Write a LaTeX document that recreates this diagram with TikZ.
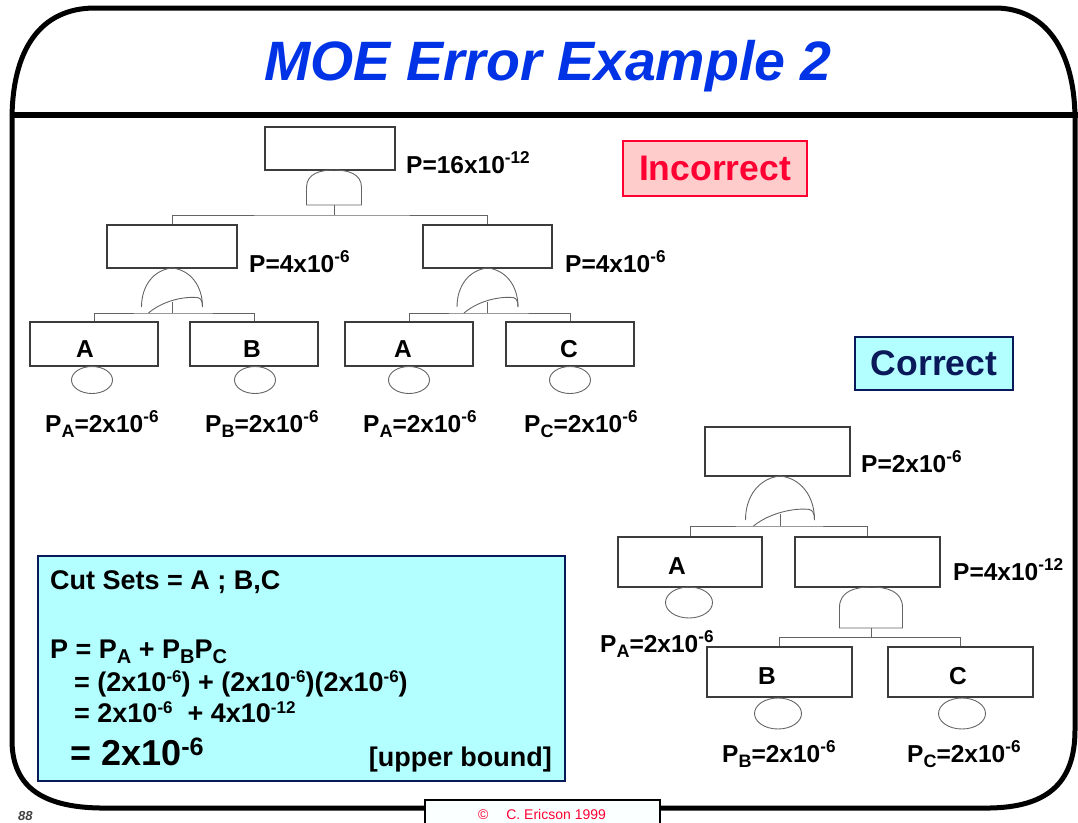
\documentclass[tikz,border=0pt]{standalone}
\usepackage{fontspec}
\setmainfont{Liberation Sans}
\usetikzlibrary{shapes.geometric}
\definecolor{titleblue}{RGB}{0,51,230}
\definecolor{incred}{RGB}{255,0,51}
\definecolor{incfill}{RGB}{255,204,204}
\definecolor{cyanfill}{RGB}{179,255,255}
\definecolor{navy}{RGB}{10,25,90}
\definecolor{boxgray}{RGB}{60,60,60}
\definecolor{gategray}{RGB}{100,100,100}
\newcommand\fs[1]{\fontsize{#1}{#1}\selectfont}
\newcommand\sbt[1]{\raisebox{-5pt}{\fs{18}#1}}
\newcommand\sbc[1]{\raisebox{-5.5pt}{\fs{20}#1}}
\newcommand\spc[1]{\raisebox{8.5pt}{\fs{17}#1}}
% AND gate: cx, ytop, halfwidth, height
\newcommand\ANDgate[4]{%
  \draw[gate] (#1-#3,#2+#4) -- (#1-#3,#2+0.5*#4)
    .. controls (#1-#3,#2+0.1*#4) and (#1-0.5*#3,#2) .. (#1,#2)
    .. controls (#1+0.5*#3,#2) and (#1+#3,#2+0.1*#4) .. (#1+#3,#2+0.5*#4)
    -- (#1+#3,#2+#4) -- cycle;}
% OR gate: cx, ytop, halfwidth, height, line y
\newcommand\ORgate[5]{%
  \draw[gate] (#1-#3,#2+#4) .. controls (#1-#3,#2+0.45*#4) and (#1-0.6*#3,#2+0.05*#4) .. (#1,#2)
    .. controls (#1+0.6*#3,#2+0.05*#4) and (#1+#3,#2+0.45*#4) .. (#1+#3,#2+#4);
  \draw[gate] (#1-0.77*#3,#5) .. controls (#1-0.3*#3,#2+0.84*#4) and (#1+0.4*#3,#2+0.72*#4) .. (#1+0.85*#3,#2+0.76*#4)
    .. controls (#1+0.95*#3,#2+0.78*#4) and (#1+#3,#2+0.85*#4) .. (#1+#3,#2+#4);}
\begin{document}
\begin{tikzpicture}[x=1pt,y=-1pt,
  frame/.style={line width=5pt, line cap=round, line join=round},
  fbox/.style={draw=boxgray, line width=1.1pt, inner sep=0pt},
  ev/.style={ellipse, draw=gategray, line width=0.9pt, inner sep=0pt},
  gate/.style={draw=gategray, line width=0.9pt},
  conn/.style={draw=gategray, line width=0.9pt},
  lbl/.style={inner sep=0pt, font=\fs{24.5}\bfseries},
  cst/.style={inner sep=0pt, font=\fs{27}\bfseries, anchor=base west}]
\useasboundingbox (0,0) rectangle (1078,822);
% frame
\draw[frame] (12,740) -- (12,120) .. controls (12,50) and (40,8) .. (95,8) -- (995,8)
  .. controls (1045,8) and (1075,50) .. (1075,120) -- (1075,730)
  .. controls (1075,785) and (1045,807) .. (990,808) -- (100,808)
  .. controls (40,807) and (12,785) .. (12,740);
\draw[line width=6pt] (12,115) -- (1078,115);
\node[font=\fs{55.5}\bfseries\itshape, text=titleblue, anchor=base, inner sep=0pt] (title) at (548,80) {MOE Error Example 2};
% footer
\node[draw=black, fill={rgb,255:red,250;green,255;blue,255}, line width=2pt, minimum width=235, minimum height=30, inner sep=0pt] (foot) at (542.5,815) {};
\node[font=\fs{14}, text=incred, anchor=base, inner sep=0pt] (copy) at (542,819) {©\hspace{18pt}C. Ericson 1999};
\node[font=\fs{13}\bfseries\itshape, text=darkgray, anchor=base west, inner sep=0pt] (pg) at (18,820) {88};

% ===== Incorrect tree =====
\node[fbox, minimum width=130, minimum height=43] (it) at (330,148.5) {};
\node[lbl, anchor=base west] (itp) at (406,173) {P=16x10\textsuperscript{-12}};
\ANDgate{334}{170}{27.5}{35}
\coordinate (ito) at (334,205);
\coordinate (itj) at (334,215);
\node[fbox, minimum width=130, minimum height=43] (iml) at (172,246.5) {};
\node[fbox, minimum width=129, minimum height=43] (imr) at (487.5,246.5) {};
\node[lbl, anchor=base west] (imlp) at (249,272) {P=4x10\textsuperscript{-6}};
\node[lbl, anchor=base west] (imrp) at (565,272) {P=4x10\textsuperscript{-6}};
\draw[conn] (iml.north) |- (itj) -| (imr.north);
\draw[conn] (ito) -- (itj);
% left OR
\ORgate{172}{268}{30.5}{39}{313}
\coordinate (ilo) at (172,302);
\coordinate (ilj) at (172,313);
% right OR
\ORgate{487.5}{268}{30.5}{39}{313}
\coordinate (iro) at (487.5,302);
\coordinate (irj) at (487.5,313);
% bottom boxes
\node[fbox, minimum width=128, minimum height=44] (ia1) at (94,344) {};
\node[fbox, minimum width=128, minimum height=44] (ib) at (254,344) {};
\node[fbox, minimum width=128, minimum height=44] (ia2) at (409,344) {};
\node[fbox, minimum width=128, minimum height=44] (ic) at (570,344) {};
\draw[conn] (ia1.north) |- (ilj) -| (ib.north);
\draw[conn] (ilo) -- (ilj);
\draw[conn] (ia2.north) |- (irj) -| (ic.north);
\draw[conn] (iro) -- (irj);
\node[lbl, anchor=base] (ia1l) at (85,357) {A};
\node[lbl, anchor=base] (ibl) at (252,357) {B};
\node[lbl, anchor=base] (ia2l) at (403,357) {A};
\node[lbl, anchor=base] (icl) at (569,357) {C};
\node[ev, minimum width=41, minimum height=27] (iea1) at (92,380) {};
\node[ev, minimum width=41, minimum height=27] (ieb) at (255,380) {};
\node[ev, minimum width=41, minimum height=27] (iea2) at (409,380) {};
\node[ev, minimum width=41, minimum height=27] (iec) at (570,380) {};
\node[lbl, anchor=base west] (ipa1) at (45,432) {P\sbt{A}=2x10\textsuperscript{-6}};
\node[lbl, anchor=base west] (ipb) at (205,432) {P\sbt{B}=2x10\textsuperscript{-6}};
\node[lbl, anchor=base west] (ipa2) at (363,432) {P\sbt{A}=2x10\textsuperscript{-6}};
\node[lbl, anchor=base west] (ipc) at (524,432) {P\sbt{C}=2x10\textsuperscript{-6}};

% badges
\node[draw=incred, fill=incfill, line width=1.5pt, minimum width=184, minimum height=55, inner sep=0pt, text=incred, font=\fs{35.5}\bfseries] (inc) at (715,168.5) {Incorrect};
\node[draw=navy, fill=cyanfill, line width=1.5pt, minimum width=158, minimum height=53, inner sep=0pt, text=navy, font=\fs{35.5}\bfseries] (cor) at (934,363.5) {Correct};

% ===== Correct tree =====
\node[fbox, minimum width=145, minimum height=49] (ct) at (777.5,451.5) {};
\node[lbl, anchor=base west] (ctp) at (861,472) {P=2x10\textsuperscript{-6}};
\ORgate{780}{476}{34.5}{44}{526}
\coordinate (cto) at (780,514);
\coordinate (ctj) at (780,526);
\node[fbox, minimum width=144, minimum height=50] (ca) at (690,562) {};
\node[fbox, minimum width=145, minimum height=50] (cm) at (867.5,562) {};
\draw[conn] (ca.north) |- (ctj) -| (cm.north);
\draw[conn] (cto) -- (ctj);
\node[lbl, anchor=base] (cal) at (677,574) {A};
\node[ev, minimum width=47, minimum height=31] (cea) at (689,602.5) {};
\node[lbl, anchor=base west] (cpa) at (600,652) {P\sbt{A}=2x10\textsuperscript{-6}};
\node[lbl, anchor=base west] (cmp) at (953,580) {P=4x10\textsuperscript{-12}};
\ANDgate{871}{587}{31.5}{41}
\coordinate (cmo) at (871,628);
\coordinate (cmj) at (871,637);
\node[fbox, minimum width=145, minimum height=50] (cb) at (779.5,672) {};
\node[fbox, minimum width=145, minimum height=50] (cc) at (960.5,672) {};
\draw[conn] (cb.north) |- (cmj) -| (cc.north);
\draw[conn] (cmo) -- (cmj);
\node[lbl, anchor=base] (cbl) at (767,684) {B};
\node[lbl, anchor=base] (ccl) at (958,684) {C};
\node[ev, minimum width=47, minimum height=31] (ceb) at (778,713.5) {};
\node[ev, minimum width=47, minimum height=31] (cec) at (962,713.5) {};
\node[lbl, anchor=base west] (cpb) at (722,762) {P\sbt{B}=2x10\textsuperscript{-6}};
\node[lbl, anchor=base west] (cpc) at (907,762) {P\sbt{C}=2x10\textsuperscript{-6}};

% ===== Cut sets box =====
\node[draw=navy, fill=cyanfill, line width=1.5pt, minimum width=527, minimum height=225, inner sep=0pt] (cs) at (301.5,668.5) {};
\node[cst] (cs1) at (50,589) {Cut Sets = A ; B,C};
\node[cst] (cs2) at (50,658) {P = P\sbc{A} + P\sbc{B}P\sbc{C}};
\node[cst] (cs3) at (74,691) {= (2x10\spc{-6}) + (2x10\spc{-6})(2x10\spc{-6})};
\node[cst] (cs4) at (74,722) {= 2x10\spc{-6}\ \ + 4x10\spc{-12}};
\node[cst, font=\fs{36}\bfseries] (cs5) at (70,765) {= 2x10\textsuperscript{-6}};
\node[cst, anchor=base east] (cs6) at (552,766) {[upper bound]};
\end{tikzpicture}
\end{document}
